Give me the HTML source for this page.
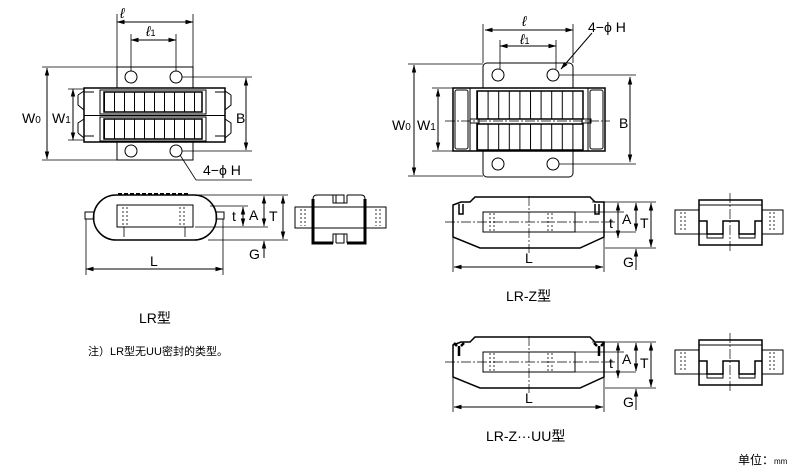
<!DOCTYPE html>
<html><head><meta charset="utf-8"><style>
html,body{margin:0;padding:0;background:#fff}
svg{display:block}
text{font-family:"Liberation Sans","Noto Sans CJK SC",sans-serif;fill:#000}
</style></head><body>
<svg width="800" height="471" viewBox="0 0 800 471" xmlns="http://www.w3.org/2000/svg">
<defs>
<marker id="a" markerWidth="8" markerHeight="6" refX="7.5" refY="3" orient="auto-start-reverse" markerUnits="userSpaceOnUse"><path d="M0,0.8 L8,3 L0,5.2z" fill="#000"/></marker>
<pattern id="r1" x="104" y="0" width="10" height="50" patternUnits="userSpaceOnUse"><rect width="10" height="50" fill="#fff"/><line x1="0.5" y1="0" x2="0.5" y2="50" stroke="#000" stroke-width="1"/></pattern>
<pattern id="r2" x="477" y="0" width="10.6" height="80" patternUnits="userSpaceOnUse"><rect width="10.6" height="80" fill="#fff"/><line x1="0.5" y1="0" x2="0.5" y2="80" stroke="#000" stroke-width="1"/></pattern>
</defs>
<g fill="none" stroke="#000" stroke-width="1">
<!-- LEFT TOP VIEW -->
<rect x="117" y="67" width="76" height="93" fill="#fff"/>
<path d="M84,88 H225 V142 H84z" fill="#fff" stroke-width="1.5"/>
<path d="M84,92 h10 M84,136 h10 M215,92 h10 M215,136 h10" />
<path d="M78,95 l6,-4 M78,95 v10 l6,5 M78,133 l6,5 M78,133 v-10 l6,-4 M231,95 l-6,-4 M231,95 v10 l-6,5 M231,133 l-6,5 M231,133 v-10 l-6,-4"/>
<rect x="100" y="90" width="106" height="24"/>
<rect x="100" y="117" width="106" height="24"/>
<rect x="104" y="92" width="98" height="20" fill="url(#r1)" stroke-width="1.5"/>
<rect x="104" y="119" width="98" height="20" fill="url(#r1)" stroke-width="1.5"/>
<line x1="84" y1="115.5" x2="225" y2="115.5"/>
<circle cx="131" cy="77" r="6"/><circle cx="176" cy="77" r="6"/><circle cx="131" cy="151" r="6"/><circle cx="176" cy="151" r="6"/>
<path d="M117,67 V14 M193,67 V14 M131,71 V34 M176,71 V34" stroke-width="0.8"/>
<line x1="117" y1="22" x2="193" y2="22" marker-start="url(#a)" marker-end="url(#a)"/>
<line x1="131" y1="40" x2="176" y2="40" marker-start="url(#a)" marker-end="url(#a)"/>
<path d="M117,67 H42 M117,160 H42 M84,89 H68 M84,140 H68 M182,77 H252 M182,151 H252" stroke-width="0.8"/>
<line x1="47" y1="68" x2="47" y2="159" marker-start="url(#a)" marker-end="url(#a)"/>
<line x1="73" y1="89" x2="73" y2="140" marker-start="url(#a)" marker-end="url(#a)"/>
<line x1="246" y1="78" x2="246" y2="150" marker-start="url(#a)" marker-end="url(#a)"/>
<path d="M196,180 L180,155 M196,180 H252" stroke-width="0.8"/>
<!-- LEFT SIDE VIEW -->
<path d="M116,195 H194 A22,22 0 0 1 194,240 H116 A22,22 0 0 1 116,195z" fill="#fff" stroke-width="1.5"/>
<path d="M118,194 h72" stroke-dasharray="4,2" stroke-width="2"/>
<rect x="117" y="205" width="76" height="22"/>
<path d="M123,207 v18 M127,207 v18 M180,207 v18 M184,207 v18" stroke-dasharray="2,2" stroke-width="0.8"/>
<path d="M124,227 v10 M185,227 v10" stroke-width="0.8"/>
<rect x="85" y="212" width="9" height="7"/><rect x="216" y="212" width="8" height="7"/>
<path d="M86,219 V275 M223,219 V275" stroke-width="0.8"/>
<line x1="86" y1="269" x2="223" y2="269" marker-start="url(#a)" marker-end="url(#a)"/>
<path d="M194,195 H288 M210,206 H248 M195,227 H268 M208,240 H288" stroke-width="0.8"/>
<line x1="243" y1="207" x2="243" y2="226" marker-start="url(#a)" marker-end="url(#a)"/>
<line x1="264" y1="196" x2="264" y2="226" marker-start="url(#a)" marker-end="url(#a)"/>
<line x1="283" y1="196" x2="283" y2="239" marker-start="url(#a)" marker-end="url(#a)"/>
<line x1="264" y1="258" x2="264" y2="241" marker-end="url(#a)"/>
<!-- LEFT END VIEW -->
<rect x="295" y="207" width="91" height="21" fill="#fff"/>
<path d="M301,209 v17 M305,209 v17 M376,209 v17 M380,209 v17" stroke-dasharray="2,2" stroke-width="0.8"/>
<path d="M313,207 V199 q0,-4 4,-4 h16 v8 h3 v-8 h-3 M336,195 h8 v8 h3 v-8 M347,195 h14 q4,0 4,4 v8" />
<path d="M313,228 V239 q0,4 4,4 h16 v-9 h3 v9 M336,243 h8 v-9 h3 v9 M347,243 h14 q4,0 4,-4 v-11"/>
<path d="M313,199 v44 h20 M365,199 v44 h-18" stroke-width="3"/>
<path d="M333,203 h14 M333,234 h14" />
<!-- RIGHT TOP VIEW -->
<rect x="483" y="63" width="90" height="114" rx="4" fill="#fff"/>
<rect x="453" y="88" width="152" height="63" fill="#fff" stroke-width="1.5"/>
<rect x="455" y="90" width="13" height="59" rx="2"/>
<rect x="590" y="90" width="13" height="59" rx="2"/>
<path d="M470,88 v63 M588,88 v63"/>
<rect x="477" y="91" width="106" height="28" fill="url(#r2)" stroke-width="1.5"/>
<rect x="477" y="124" width="106" height="26" fill="url(#r2)" stroke-width="1.5"/>
<rect x="470" y="119" width="9" height="4"/><rect x="582" y="119" width="9" height="4"/>
<line x1="445" y1="121" x2="610" y2="121" stroke-dasharray="10,2,2,2" stroke-width="0.7"/>
<circle cx="498" cy="75" r="6"/><circle cx="553" cy="75" r="6"/><circle cx="498" cy="164" r="6"/><circle cx="553" cy="164" r="6"/>
<path d="M483,63 V24 M573,63 V24 M500,69 V40 M556,69 V40" stroke-width="0.8"/>
<line x1="485" y1="30" x2="573" y2="30" marker-start="url(#a)" marker-end="url(#a)"/>
<line x1="500" y1="46" x2="556" y2="46" marker-start="url(#a)" marker-end="url(#a)"/>
<path d="M483,64 H408 M483,176 H408 M453,88 H432 M453,151 H432 M559,75 H636 M559,164 H636" stroke-width="0.8"/>
<line x1="414" y1="65" x2="414" y2="175" marker-start="url(#a)" marker-end="url(#a)"/>
<line x1="438" y1="89" x2="438" y2="150" marker-start="url(#a)" marker-end="url(#a)"/>
<line x1="630" y1="77" x2="630" y2="162" marker-start="url(#a)" marker-end="url(#a)"/>
<line x1="592" y1="33" x2="561" y2="69" marker-end="url(#a)"/>
<!-- LR-Z side (two copies) -->
<g id="z1">
<path d="M453,205 L461,202 H470 L475,197 H590 L595,202 H604 V237 L580,248 H480 L453,237z" fill="#fff" stroke-width="1.5"/>
<rect x="483" y="212" width="92" height="20"/>
<path d="M490,213 v18 M494,213 v18 M548,213 v18 M552,213 v18" stroke-dasharray="2,2" stroke-width="0.8"/>
<line x1="445" y1="222" x2="615" y2="222" stroke-dasharray="10,2,2,2" stroke-width="0.7"/>
<line x1="529" y1="196" x2="529" y2="253" stroke-dasharray="10,2,2,2" stroke-width="0.7"/>
<path d="M453,237 V272 M604,237 V272" stroke-width="0.8"/>
<line x1="454" y1="267" x2="603" y2="267" marker-start="url(#a)" marker-end="url(#a)"/>
<path d="M592,202 H656 M575,212 H624 M575,232 H636 M605,248 H656" stroke-width="0.8"/>
<line x1="618" y1="203" x2="618" y2="238" marker-start="url(#a)" marker-end="url(#a)"/>
<line x1="636" y1="203" x2="636" y2="231" marker-start="url(#a)" marker-end="url(#a)"/>
<line x1="651" y1="203" x2="651" y2="247" marker-start="url(#a)" marker-end="url(#a)"/>
<line x1="636" y1="270" x2="636" y2="249" marker-end="url(#a)"/>
<!-- end view -->
<rect x="675" y="210" width="24" height="24" fill="#fff"/><rect x="762" y="210" width="21" height="24" fill="#fff"/>
<path d="M681,212 v20 M685,212 v20 M770,212 v20 M774,212 v20" stroke-dasharray="2,2" stroke-width="0.8"/>
<rect x="699" y="200" width="63" height="45" fill="#fff" stroke-width="1.5"/>
<path d="M699,205 H762" />
<path d="M699,221 h8 v13 h16 v-13 h16 v13 h16 v-13 h7" stroke-width="1.5"/>
<path d="M699,234 h8 v4 h16 v-4 M739,234 v4 h16 v-4"/>
<line x1="730" y1="193" x2="730" y2="252" stroke-dasharray="10,2,2,2" stroke-width="0.7"/>
</g>
<path d="M459,204 v10 h4 v-10 M595,204 v10 h4 v-10" stroke-width="1.5"/>
<use href="#z1" y="140"/>
<path d="M457,346 l-3,-3 M461,346 l3,-3 M459,346 v10 M597,346 l-3,-3 M601,346 l3,-3 M599,346 v10" stroke-width="2.5"/>
</g>
<g font-size="14">
<text x="120" y="18" font-style="italic">ℓ</text>
<text x="146" y="36" font-style="italic">ℓ<tspan font-size="9" font-style="normal">1</tspan></text>
<text x="22" y="123">W<tspan font-size="10">0</tspan></text>
<text x="52" y="123">W<tspan font-size="10">1</tspan></text>
<text x="236" y="123">B</text>
<text x="203" y="175">4−ϕ H</text>
<text x="232" y="221">t</text>
<text x="249" y="220">A</text>
<text x="269" y="221">T</text>
<text x="249" y="259">G</text>
<text x="150" y="266">L</text>
<text x="139" y="323">LR型</text>
<text x="88" y="355" font-size="11">注）LR型无UU密封的类型。</text>
<text x="522" y="26" font-style="italic">ℓ</text>
<text x="520" y="44" font-style="italic">ℓ<tspan font-size="9" font-style="normal">1</tspan></text>
<text x="588" y="32">4−ϕ H</text>
<text x="392" y="130">W<tspan font-size="10">0</tspan></text>
<text x="417" y="130">W<tspan font-size="10">1</tspan></text>
<text x="619" y="128">B</text>
<g id="lbl">
<text x="609" y="228">t</text>
<text x="622" y="224">A</text>
<text x="640" y="228">T</text>
<text x="623" y="267">G</text>
<text x="525" y="263">L</text>
</g>
<use href="#lbl" y="140"/>
<text x="506" y="301">LR-Z型</text>
<text x="486" y="441">LR-Z···UU型</text>
<text x="738" y="464" font-size="12">单位：<tspan font-size="8">mm</tspan></text>
</g>
</svg>
</body></html>
